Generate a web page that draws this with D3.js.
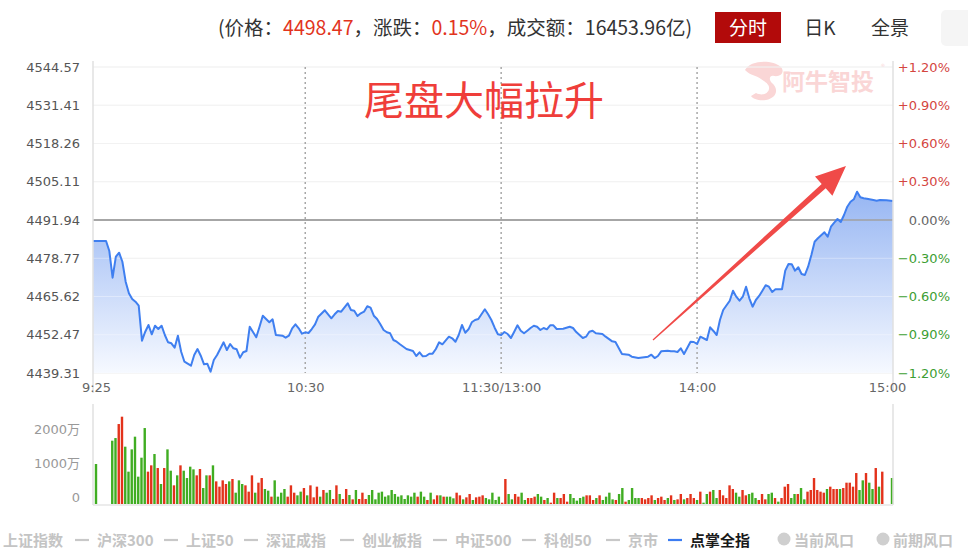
<!DOCTYPE html>
<html><head><meta charset="utf-8">
<script src="https://cdn.jsdelivr.net/npm/d3@7/dist/d3.min.js"></script>
<style>
body{margin:0;background:#fff;}
svg{display:block;}
</style></head><body>
<svg id="c" width="968" height="559"></svg>
<script>
// ---------------- DATA ----------------
const yTicks = [4439.31,4452.47,4465.62,4478.77,4491.94,4505.11,4518.26,4531.41,4544.57];
const pctTicks = ["\u22121.20%","\u22120.90%","\u22120.60%","\u22120.30%","0.00%","+0.30%","+0.60%","+0.90%","+1.20%"];
const prevClose = 4491.94;
const timeTickMin = [0,65,125,185,245];
const timeTickLabels = ["9:25","10:30","11:30/13:00","14:00","15:00"];
const dottedMin = [65,125,185];
// minute offsets from 9:25 (continuous trading axis) and index price
const priceMinutes = [0,4,5,6,7,8,9,10,11,12,13,14,15,16,17,18,19,20,21,22,23,24,25,26,27,28,30,31,32,33,34,35,36,37,38,40,41,42,43,44,45,46,47,48,50,51,52,53,54,55,56,58,59,60,61,62,63,64,65,66,67,68,69,71,72,73,74,75,76,78,79,80,81,82,83,84,85,86,87,88,89,90,91,92,93,94,96,98,99,100,101,102,103,104,105,106,107,109,110,111,112,113,114,115,116,117,118,120,121,122,123,124,125,126,127,128,129,130,131,132,133,134,135,136,137,138,139,140,141,142,144,146,147,148,150,151,152,153,154,156,157,159,160,162,164,165,167,170,171,172,173,174,176,177,178,179,180,181,183,184,185,186,188,189,190,191,192,193,195,196,197,198,199,200,201,202,203,204,205,206,207,208,209,211,212,213,214,215,216,217,218,219,220,221,222,224,225,226,227,228,229,230,231,232,233,234,235,236,237,239,240,241,243,245];
const prices = [4484.72,4484.72,4481.27,4472.09,4479.32,4480.69,4477.59,4470.72,4466.72,4464.76,4463.83,4462.46,4450.42,4453.52,4455.82,4452.62,4455.58,4454.44,4455.58,4452.38,4449.87,4449.52,4448.01,4452.14,4446.63,4443.19,4441.82,4445.50,4447.56,4445.26,4442.30,4442.51,4439.76,4443.78,4445.50,4449.87,4447.22,4449.28,4447.80,4447.46,4444.57,4446.43,4446.88,4455.23,4451.59,4455.23,4459.02,4457.88,4456.75,4457.78,4452.38,4452.14,4451.45,4452.14,4454.69,4456.06,4454.69,4452.83,4453.31,4453.07,4454.44,4456.06,4458.68,4460.88,4459.50,4458.13,4459.50,4460.64,4460.40,4463.29,4460.98,4460.74,4458.92,4459.85,4460.40,4462.26,4461.78,4459.02,4457.88,4456.06,4454.10,4453.31,4452.96,4450.66,4450.07,4449.18,4447.56,4446.88,4445.16,4446.43,4445.05,4445.16,4445.95,4445.95,4447.56,4449.87,4449.18,4451.80,4451.25,4450.07,4452.38,4455.82,4453.17,4454.34,4456.75,4457.54,4457.88,4461.22,4459.50,4457.54,4454.89,4452.62,4452.38,4453.41,4452.72,4451.35,4453.52,4455.72,4453.86,4452.96,4453.86,4454.79,4455.58,4455.23,4454.10,4454.79,4454.34,4455.72,4455.72,4454.44,4454.55,4455.23,4454.79,4453.41,4451.35,4451.80,4453.52,4453.86,4452.96,4452.72,4451.80,4450.21,4449.97,4445.84,4445.60,4444.91,4444.46,4444.91,4445.60,4444.46,4445.16,4446.77,4446.98,4446.77,4446.77,4446.53,4447.80,4445.84,4450.07,4449.97,4449.28,4451.80,4450.66,4455.03,4453.76,4452.38,4457.54,4460.98,4464.18,4467.62,4465.56,4464.18,4465.56,4469.00,4465.01,4462.12,4464.42,4465.80,4467.62,4469.48,4469.00,4467.18,4468.11,4468.11,4474.51,4476.81,4476.71,4474.51,4475.67,4473.37,4473.02,4475.88,4479.90,4484.47,4485.64,4487.71,4486.20,4489.64,4491.01,4492.28,4491.25,4493.66,4496.52,4498.24,4499.06,4501.68,4499.75,4499.41,4499.27,4498.82,4498.58,4498.82,4498.72,4498.47];
// volume per minute (万), index = minute offset from 9:25
const volumes = [1176,0,0,0,0,
1862,1940,2352,2568,1686,951,1607,1980,804,1362,
2234,951,1137,1470,1058,588,1058,1607,980,549,
843,1137,980,764,1098,1019,843,1029,470,843,
843,1137,666,510,696,588,666,735,333,696,
588,549,363,843,333,627,764,441,392,216,
696,216,333,441,216,549,333,255,363,470,
255,549,196,510,216,412,333,412,147,549,
294,147,441,265,137,412,147,333,147,265,
412,137,333,363,216,255,412,294,216,255,
147,255,216,333,216,363,216,118,333,137,
255,255,216,216,216,167,333,255,137,196,
294,118,196,
216,255,176,137,333,118,216,39,735,294,
137,294,216,333,118,176,176,216,294,216,
118,176,39,333,176,176,294,69,294,176,
98,176,216,255,255,118,176,255,118,216,
333,137,118,294,470,69,118,470,176,176,
176,137,176,255,118,176,216,118,176,255,
118,137,294,137,176,294,176,118,363,39,
294,363,412,176,412,255,176,549,441,333,
216,412,255,294,333,176,118,294,137,294,
333,176,69,176,510,588,176,294,294,470,
137,363,412,764,412,363,333,441,510,441,
441,441,470,627,627,510,911,412,696,911,
627,441,1058,510,951,
0,0,764];
const volDir = ("g----" +
"ggrrgggggg"+"grrgrgrggr"+"grggggrrgg"+"rgrrrrgrgg"+"grrrgrrggr"+"ggggrrrggr"+"grrrgrggrr"+"grrgrgrrrg"+"gggggggggg"+"ggggrggrgr"+"rgrgggrrgr"+"rgr"+
"rrgggggrrg"+"grrggrrrgg"+"rgrrgrrrgg"+"gggrrrgrgg"+"ggrggrgggg"+"rrrrgrrrgr"+"grrgrrrgrg"+"grggrrrrrg"+"grrgggrrrg"+"grgrrrggrg"+"grrrrrrgrr"+"rgrrrrrggr"+"ggrgr"+
"--g").split("");
const volTicks = [0,1000,2000];
const legendItems = ["上证指数","沪深300","上证50","深证成指","创业板指","中证500","科创50","京市","点掌全指","当前风口","前期风口"];
const legendX = [3,97,186,266,362,455,544,628,690,794,893];

// ---------------- LAYOUT ----------------
const svg = d3.select("#c");
const L = 93, R = 893, T = 67, B = 373;
const VT = 404, VB = 504;
const x = d3.scaleLinear().domain([0,245]).range([L,R]);
const xb = d3.scaleLinear().domain([0,245]).range([96,892]);
const y = d3.scaleLinear().domain([yTicks[0], yTicks[yTicks.length-1]]).range([B,T]);
const yv = d3.scaleLinear().domain([0,1000]).range([VB,VB-34]);
const numFont = "'DejaVu Sans', 'Noto Sans CJK SC', sans-serif";
const cjk = "'Noto Sans CJK SC', 'Noto Sans', sans-serif";

// ---------------- HEADER ----------------
const hdr = svg.append("text").attr("x",218).attr("y",35)
  .attr("font-family",cjk).attr("font-size",19.5).attr("fill","#333");
[["(价格：","#333"],["4498.47","#e2341d"],["，涨跌：","#333"],["0.15%","#e2341d"],["，成交额：16453.96亿)","#333"]]
  .forEach(([t,c])=>hdr.append("tspan").attr("fill",c).text(t));
svg.append("rect").attr("x",715).attr("y",12).attr("width",66).attr("height",31).attr("fill","#b20a0a");
svg.append("text").attr("x",748).attr("y",34.5).attr("text-anchor","middle").attr("font-family",cjk)
  .attr("font-size",19).attr("fill","#fff").text("分时");
svg.append("text").attr("x",820).attr("y",34.5).attr("text-anchor","middle").attr("font-family",cjk)
  .attr("font-size",19).attr("fill","#333").text("日K");
svg.append("text").attr("x",890).attr("y",34.5).attr("text-anchor","middle").attr("font-family",cjk)
  .attr("font-size",19).attr("fill","#333").text("全景");
svg.append("rect").attr("x",941).attr("y",10).attr("width",40).attr("height",36).attr("rx",5).attr("fill","#f5f5f5");

// ---------------- WATERMARK ----------------
const wm = svg.append("g").attr("fill","#fad6d6");
wm.append("path").attr("d","M745,70 C750,60 772,59 781,67 C785,72 781,77 774,76 C770,75 768,79 772,83 C779,89 777,98 766,100 C759,101 753,99 751,96 L756,93 C762,96 768,94 769,89 C770,84 764,81 761,79 C756,75 751,76 745,70 Z");
wm.append("text").attr("x",782).attr("y",90).attr("font-family",cjk).attr("font-size",23).attr("font-weight","bold").text("阿牛智投");
wm.append("text").attr("x",881).attr("y",70).attr("font-family",cjk).attr("font-size",8).text("®");

// ---------------- PRICE PANEL ----------------
svg.append("g").selectAll("line").data(yTicks).join("line")
  .attr("x1",L).attr("x2",R).attr("y1",d=>y(d)).attr("y2",d=>y(d))
  .attr("stroke",d=>d===prevClose?"#a0a0a0":"#ebebeb")
  .attr("stroke-width",d=>d===prevClose?1.6:1);

const pts = priceMinutes.map((m,i)=>({m, p:prices[i]}));
const defs = svg.append("defs");
const grad = defs.append("linearGradient").attr("id","ag").attr("x1",0).attr("y1",0).attr("x2",0).attr("y2",1);
grad.append("stop").attr("offset","0%").attr("stop-color","#97b6f3");
grad.append("stop").attr("offset","100%").attr("stop-color","#f6f9ff");
svg.append("path").datum(pts)
  .attr("d",d3.area().x(d=>x(d.m)).y0(B).y1(d=>y(d.p)))
  .attr("fill","url(#ag)");
svg.append("g").selectAll("line").data(yTicks.filter(d=>d!==prevClose)).join("line")
  .attr("x1",L).attr("x2",R).attr("y1",d=>y(d)).attr("y2",d=>y(d))
  .attr("stroke","#ffffff").attr("stroke-opacity",0.35);
svg.append("line").attr("x1",L).attr("x2",R).attr("y1",y(prevClose)).attr("y2",y(prevClose))
  .attr("stroke","#a0a0a0").attr("stroke-width",1.6);

svg.append("g").selectAll("line").data(dottedMin).join("line")
  .attr("x1",d=>x(d)).attr("x2",d=>x(d)).attr("y1",T).attr("y2",B)
  .attr("stroke","#a8a8a8").attr("stroke-width",1.5).attr("stroke-dasharray","2,3");

svg.append("path").datum(pts)
  .attr("d",d3.line().x(d=>x(d.m)).y(d=>y(d.p)))
  .attr("fill","none").attr("stroke","#3f7ff0").attr("stroke-width",2).attr("stroke-linejoin","round");

[L,R].forEach(xx=>svg.append("line").attr("x1",xx).attr("x2",xx).attr("y1",T-6).attr("y2",B+20)
  .attr("stroke","#e0e0e0").attr("stroke-width",1.5));

const ax = svg.append("g").attr("transform",`translate(${L},0)`)
  .call(d3.axisLeft(y).tickValues(yTicks).tickSize(0).tickPadding(13).tickFormat(d3.format(".2f")));
ax.select(".domain").remove();
ax.selectAll("text").attr("font-family",numFont).attr("font-size",13).attr("fill","#555");

const ar = svg.append("g").attr("transform",`translate(${R},0)`)
  .call(d3.axisRight(y).tickValues(yTicks).tickSize(0).tickFormat((d,i)=>pctTicks[i]));
ar.select(".domain").remove();
ar.selectAll("text").attr("font-family",numFont).attr("font-size",13)
  .attr("text-anchor","end").attr("x",57)
  .attr("fill",(d,i)=> d>prevClose?"#d4463f":(d<prevClose?"#3d9e33":"#666"));

const axb = svg.append("g").attr("transform",`translate(0,${B})`)
  .call(d3.axisBottom(x).tickValues(timeTickMin).tickSize(0).tickPadding(9.5).tickFormat((d,i)=>timeTickLabels[i]));
axb.select(".domain").remove();
axb.selectAll("text").attr("font-family",numFont).attr("font-size",13).attr("fill","#666")
  .attr("dx",(d,i)=> i===0?3:(i===timeTickMin.length-1?-6:0));

// ---------------- VOLUME PANEL ----------------
svg.append("g").selectAll("rect").data(volumes.map((v,i)=>({i,v,c:volDir[i]})).filter(d=>d.v>0)).join("rect")
  .attr("x",d=>xb(d.i)-1.2).attr("width",2.4)
  .attr("y",d=>yv(d.v)).attr("height",d=>VB-yv(d.v))
  .attr("fill",d=>d.c==="r"?"#e3321b":"#40ad22");
[L,R].forEach(xx=>svg.append("line").attr("x1",xx).attr("x2",xx).attr("y1",VT).attr("y2",VB+1)
  .attr("stroke","#e0e0e0").attr("stroke-width",1.5));
svg.append("line").attr("x1",L).attr("x2",R).attr("y1",VB+1).attr("y2",VB+1).attr("stroke","#e6e6e6").attr("stroke-width",1.5);
const av = svg.append("g").attr("transform",`translate(${L},0)`)
  .call(d3.axisLeft(yv).tickValues(volTicks).tickSize(0).tickPadding(13).tickFormat(d=>d===0?"0":d+"万"));
av.select(".domain").remove();
av.selectAll("text").attr("font-family",numFont).attr("font-size",13).attr("fill","#999").attr("dy","-0.2em");

// ---------------- ANNOTATION ----------------
svg.append("text").attr("x",364).attr("y",115).attr("font-family",cjk).attr("font-size",40)
  .attr("fill","#ef3e3a").text("尾盘大幅拉升");
{
  const x0 = x(171.5), y0 = y(4450.66), x1 = x(230.6), y1 = y(4510.5);
  const dx = x1-x0, dy = y1-y0, len = Math.hypot(dx,dy), ux = dx/len, uy = dy/len, nx = -uy, ny = ux;
  const hl = 30, hw = 13, sw = 3;
  const bx = x1-ux*hl, by = y1-uy*hl;
  const poly = [[x0+nx*0.6,y0+ny*0.6],[bx+nx*sw,by+ny*sw],[bx+nx*hw,by+ny*hw],[x1,y1],[bx-nx*hw,by-ny*hw],[bx-nx*sw,by-ny*sw],[x0-nx*0.6,y0-ny*0.6]];
  svg.append("path").attr("d","M"+poly.map(p=>p.join(",")).join("L")+"Z").attr("fill","#f04a48");
}

// ---------------- LEGEND ----------------
const lg = svg.append("g").attr("font-family",cjk).attr("font-size",15).attr("font-weight","bold");
legendItems.forEach((name,i)=>{
  const tx = legendX[i];
  const active = name==="点掌全指";
  if(i>=1 && i<=8){
    lg.append("line").attr("x1",tx-22).attr("x2",tx-8).attr("y1",540).attr("y2",540)
      .attr("stroke",active?"#3b7cf2":"#c8c8c8").attr("stroke-width",2.2);
  } else if(i>=9){
    lg.append("circle").attr("cx",tx-10).attr("cy",539).attr("r",6.5).attr("fill","#cfcfcf");
  }
  lg.append("text").attr("x",tx).attr("y",545.5).attr("fill",active?"#1a1a1a":"#c4c4c4").text(name);
});
</script>
</body></html>
